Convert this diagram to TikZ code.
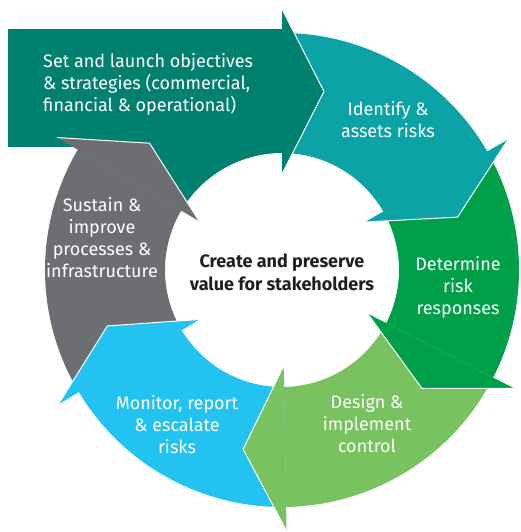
\documentclass[tikz,border=0pt]{standalone}
\usepackage{fontspec}
\setmainfont{Fira Sans}
\usetikzlibrary{calc}
\definecolor{cDark}{HTML}{00806F}
\definecolor{cTeal}{HTML}{0BA3A5}
\definecolor{cGreen}{HTML}{00A04B}
\definecolor{cLight}{HTML}{78C25F}
\definecolor{cBlue}{HTML}{22C3F1}
\definecolor{cGray}{HTML}{6D6E71}
\definecolor{cText}{HTML}{231F20}
\tikzset{
  lbl/.style={text=white,font=\fontsize{18}{22}\selectfont,align=center,inner sep=0pt},
  hub/.style={text=cText,font=\bfseries\fontsize{18}{23}\selectfont,align=center,inner sep=0pt}
}

\begin{document}
\begin{tikzpicture}[x=1pt,y=1pt]
	\useasboundingbox (-282,-262) rectangle (238,270);
	\fill[cDark] (-274,123) rectangle (1,241);
	\foreach \a/\b/\c in {149.5/90/cDark,90/30/cTeal,30/-27/cGreen,-27/-89/cLight,-89/-149/cBlue,-149/-210.5/cGray}
		\fill[\c] (\a:237) arc (\a:\b:237) -- (\b:117) arc (\b:\a:117) -- cycle;
	\foreach \h/\c in {90/cDark,30/cTeal,-27/cGreen,-89/cLight,-149/cBlue,-210.5/cGray}{
		\fill[\c] (\h:96) -- ($(\h:178.5)+(\h-90:42)$) -- (\h:261) -- cycle;
		\draw[white,line width=1pt] (\h:96) -- ($(\h:178.5)+(\h-90:42)$) -- (\h:261);
	}
	\node[lbl,align=left,anchor=west] (setobj) at (-239,186) {Set and launch objectives\\\& strategies (commercial,\\financial \& operational)};
	\node[lbl] (identify) at (106,150) {Identify \&\\assets risks};
	\node[lbl] (determine) at (176,-17) {Determine\\risk\\responses};
	\node[lbl] (design) at (85,-154) {Design \&\\implement\\control};
	\node[lbl] (monitor) at (-105,-155) {Monitor, report\\\& escalate\\risks};
	\node[lbl] (sustain) at (-180,32) {Sustain \&\\improve\\processes \&\\infrastructure};
	\node[hub] (centre) at (0,-2) {Create and preserve\\value for stakeholders};
\end{tikzpicture}
\end{document}
